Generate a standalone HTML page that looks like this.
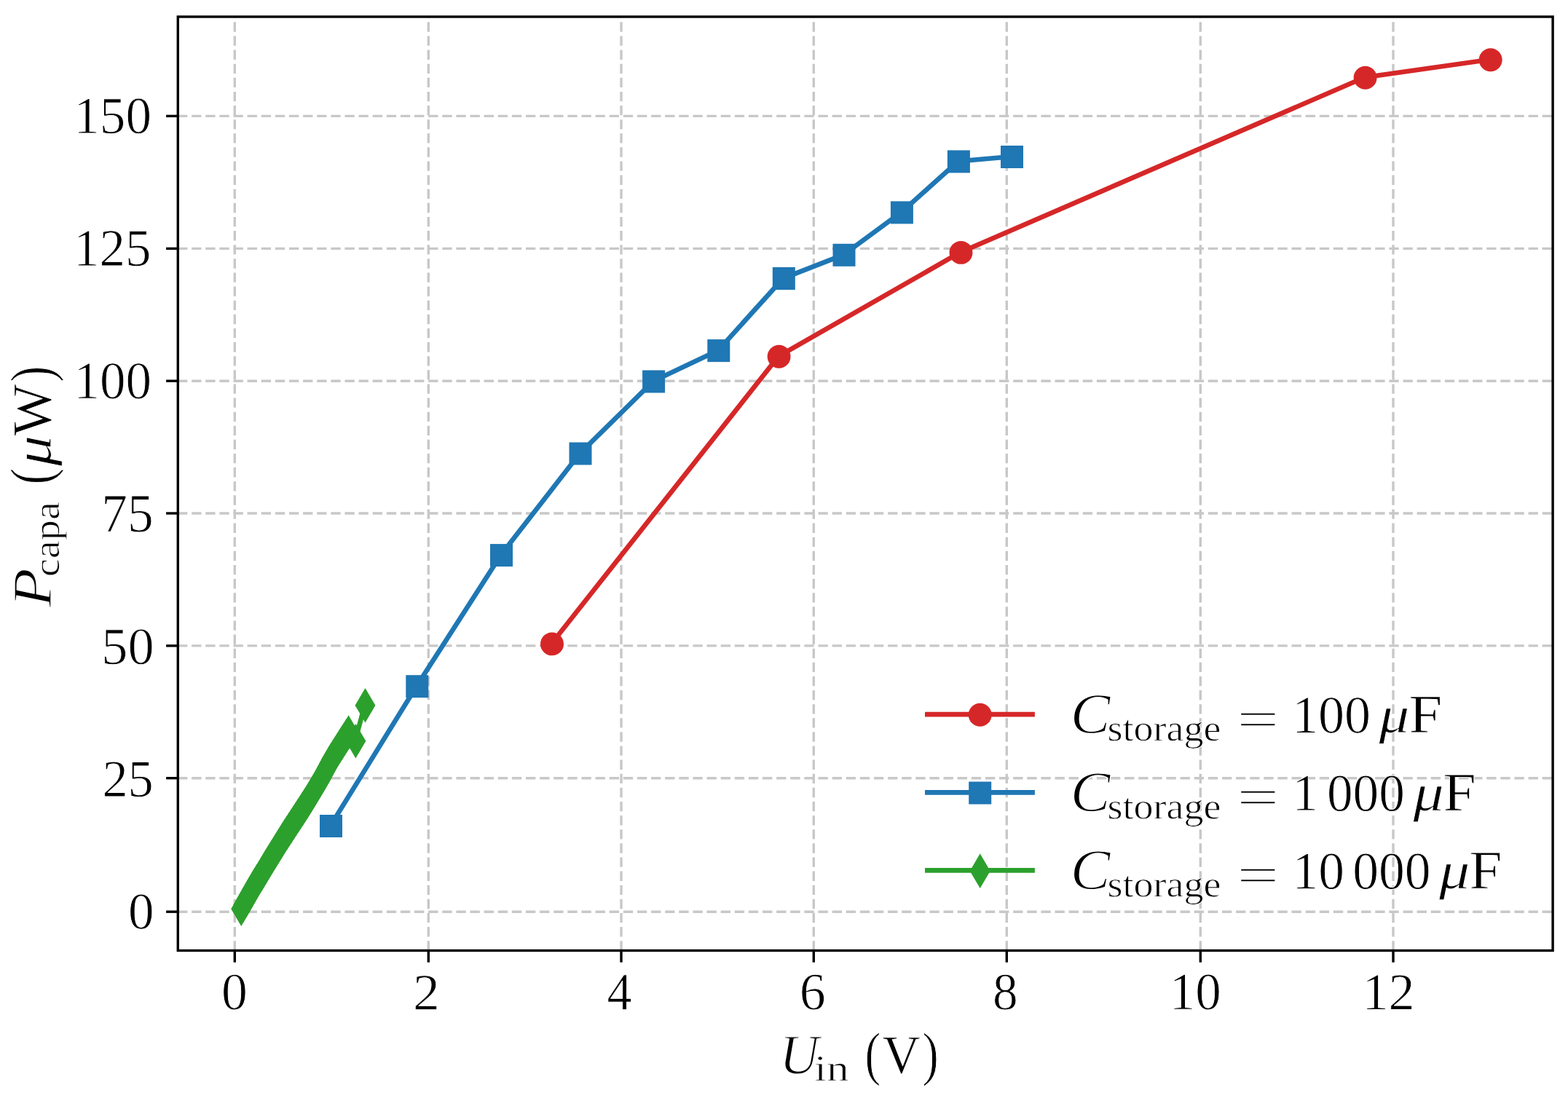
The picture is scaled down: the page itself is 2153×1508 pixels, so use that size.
<!DOCTYPE html>
<html lang="en"><head><meta charset="utf-8"><title>P_capa vs U_in</title>
<style>html,body{margin:0;padding:0;background:#fff}svg{display:block}text{font-family:"Liberation Serif","DejaVu Serif",serif;font-size:100px;fill:#000;stroke:#fff;paint-order:fill stroke;stroke-linejoin:round}.i{font-style:italic}</style></head><body>
<svg width="2153" height="1508" viewBox="0 0 2153 1508">
<rect width="2153" height="1508" fill="#fff"/>
<g stroke="#c8c8c8" stroke-width="3.4" stroke-dasharray="13.35 5.769" fill="none">
<path d="M322.3 1305.5V23"/>
<path d="M588.3 1305.5V23"/>
<path d="M853 1305.5V23"/>
<path d="M1117.3 1305.5V23"/>
<path d="M1382.3 1305.5V23"/>
<path d="M1648.3 1305.5V23"/>
<path d="M1913 1305.5V23"/>
<path d="M244 1252.2H2132.1"/>
<path d="M244 1068.7H2132.1"/>
<path d="M244 886.9H2132.1"/>
<path d="M244 705H2132.1"/>
<path d="M244 523.2H2132.1"/>
<path d="M244 341.4H2132.1"/>
<path d="M244 159.4H2132.1"/>
</g>
<defs><path id="dm" d="M0 -23.8 L13.95 0 L0 23.8 L-13.95 0Z"/></defs>
<g fill="#d62728">
<polyline points="757.3,883.95 1068.9,489.35 1318.8,346.45 1873.9,106.25 2046,81.75" fill="none" stroke="#d62728" stroke-width="6.6" stroke-linejoin="round" stroke-linecap="square"/>
<circle cx="758" cy="884.4" r="15.95"/>
<circle cx="1069.6" cy="489.8" r="15.95"/>
<circle cx="1319.5" cy="346.9" r="15.95"/>
<circle cx="1874.6" cy="106.7" r="15.95"/>
<circle cx="2046.7" cy="82.2" r="15.95"/>
</g>
<g fill="#1f77b4">
<polyline points="453.8,1134.05 572.1,942.25 687.8,762.15 796.3,622.55 896.9,523.55 986.1,481.15 1075.6,382.05 1158.3,349.85 1237.7,291.45 1315.7,221.45 1388.8,215.05" fill="none" stroke="#1f77b4" stroke-width="6.6" stroke-linejoin="round" stroke-linecap="square"/>
<rect x="439" y="1119" width="31" height="31"/>
<rect x="557.3" y="927.2" width="31" height="31"/>
<rect x="673" y="747.1" width="31" height="31"/>
<rect x="781.5" y="607.5" width="31" height="31"/>
<rect x="882.1" y="508.5" width="31" height="31"/>
<rect x="971.3" y="466.1" width="31" height="31"/>
<rect x="1060.8" y="367" width="31" height="31"/>
<rect x="1143.5" y="334.8" width="31" height="31"/>
<rect x="1222.9" y="276.4" width="31" height="31"/>
<rect x="1300.9" y="206.4" width="31" height="31"/>
<rect x="1374" y="200" width="31" height="31"/>
</g>
<g fill="#2ca02c">
<polyline points="330.5,1247.75 333.24,1242.91 335.98,1238.08 338.72,1233.24 341.47,1228.4 344.21,1223.56 346.95,1218.73 349.69,1213.89 352.57,1209.14 355.64,1204.5 358.61,1199.8 361.38,1194.98 364.15,1190.16 367.05,1185.42 369.97,1180.69 372.89,1175.96 375.82,1171.23 378.74,1166.49 381.66,1161.76 384.58,1157.03 387.5,1152.3 390.47,1147.6 393.52,1142.95 396.56,1138.3 399.6,1133.64 402.65,1128.99 405.69,1124.34 408.73,1119.68 411.78,1115.03 414.82,1110.38 417.86,1105.72 420.91,1101.07 423.83,1096.34 426.69,1091.57 429.55,1086.8 432.41,1082.04 435.27,1077.27 438.13,1072.5 440.99,1067.73 443.6,1062.82 446.2,1057.91 448.8,1052.99 451.4,1048.08 453.99,1043.16 456.98,1038.47 459.97,1033.78 462.96,1029.09 465.95,1024.41 468.93,1019.72 471.92,1015.03 474.91,1010.34 477.9,1005.65 487.7,1017.35 500.8,968.25" fill="none" stroke="#2ca02c" stroke-width="6.6" stroke-linejoin="round" stroke-linecap="square"/>
<use href="#dm" x="331.2" y="1248.2"/>
<use href="#dm" x="333.94" y="1243.36"/>
<use href="#dm" x="336.68" y="1238.53"/>
<use href="#dm" x="339.42" y="1233.69"/>
<use href="#dm" x="342.17" y="1228.85"/>
<use href="#dm" x="344.91" y="1224.01"/>
<use href="#dm" x="347.65" y="1219.18"/>
<use href="#dm" x="350.39" y="1214.34"/>
<use href="#dm" x="353.27" y="1209.59"/>
<use href="#dm" x="356.34" y="1204.95"/>
<use href="#dm" x="359.31" y="1200.25"/>
<use href="#dm" x="362.08" y="1195.43"/>
<use href="#dm" x="364.85" y="1190.61"/>
<use href="#dm" x="367.75" y="1185.87"/>
<use href="#dm" x="370.67" y="1181.14"/>
<use href="#dm" x="373.59" y="1176.41"/>
<use href="#dm" x="376.52" y="1171.68"/>
<use href="#dm" x="379.44" y="1166.94"/>
<use href="#dm" x="382.36" y="1162.21"/>
<use href="#dm" x="385.28" y="1157.48"/>
<use href="#dm" x="388.2" y="1152.75"/>
<use href="#dm" x="391.17" y="1148.05"/>
<use href="#dm" x="394.22" y="1143.4"/>
<use href="#dm" x="397.26" y="1138.75"/>
<use href="#dm" x="400.3" y="1134.09"/>
<use href="#dm" x="403.35" y="1129.44"/>
<use href="#dm" x="406.39" y="1124.79"/>
<use href="#dm" x="409.43" y="1120.13"/>
<use href="#dm" x="412.48" y="1115.48"/>
<use href="#dm" x="415.52" y="1110.83"/>
<use href="#dm" x="418.56" y="1106.17"/>
<use href="#dm" x="421.61" y="1101.52"/>
<use href="#dm" x="424.53" y="1096.79"/>
<use href="#dm" x="427.39" y="1092.02"/>
<use href="#dm" x="430.25" y="1087.25"/>
<use href="#dm" x="433.11" y="1082.49"/>
<use href="#dm" x="435.97" y="1077.72"/>
<use href="#dm" x="438.83" y="1072.95"/>
<use href="#dm" x="441.69" y="1068.18"/>
<use href="#dm" x="444.3" y="1063.27"/>
<use href="#dm" x="446.9" y="1058.36"/>
<use href="#dm" x="449.5" y="1053.44"/>
<use href="#dm" x="452.1" y="1048.53"/>
<use href="#dm" x="454.69" y="1043.61"/>
<use href="#dm" x="457.68" y="1038.92"/>
<use href="#dm" x="460.67" y="1034.23"/>
<use href="#dm" x="463.66" y="1029.54"/>
<use href="#dm" x="466.65" y="1024.86"/>
<use href="#dm" x="469.63" y="1020.17"/>
<use href="#dm" x="472.62" y="1015.48"/>
<use href="#dm" x="475.61" y="1010.79"/>
<use href="#dm" x="478.6" y="1006.1"/>
<use href="#dm" x="488.4" y="1017.8"/>
<use href="#dm" x="501.5" y="968.7"/>
</g>
<g stroke="#000" stroke-width="3.4" fill="none">
<rect x="244.3" y="23" width="1887.8" height="1282.5"/>
<path d="M322.3 1305.5v16.2"/>
<path d="M588.3 1305.5v16.2"/>
<path d="M853 1305.5v16.2"/>
<path d="M1117.3 1305.5v16.2"/>
<path d="M1382.3 1305.5v16.2"/>
<path d="M1648.3 1305.5v16.2"/>
<path d="M1913 1305.5v16.2"/>
<path d="M244.3 1252.2h-16.2"/>
<path d="M244.3 1068.7h-16.2"/>
<path d="M244.3 886.9h-16.2"/>
<path d="M244.3 705h-16.2"/>
<path d="M244.3 523.2h-16.2"/>
<path d="M244.3 341.4h-16.2"/>
<path d="M244.3 159.4h-16.2"/>
</g>
<g>
<text stroke-width="1.26" transform="matrix(0.7111 0.0004 -0.0004 0.7139 176 1275.41)">0</text>
<text stroke-width="1.26" transform="matrix(0.7045 0.0004 -0.0004 0.7251 140.38 1093.88)">25</text>
<text stroke-width="1.25" transform="matrix(0.7223 0.0004 -0.0004 0.7224 139.37 911.89)">50</text>
<text stroke-width="1.23" transform="matrix(0.714 0.0004 -0.0004 0.7534 139.36 730.25)">75</text>
<text stroke-width="1.25" transform="matrix(0.7101 0.0004 -0.0004 0.7293 101.44 547.14)">100</text>
<text stroke-width="1.25" transform="matrix(0.7096 0.0004 -0.0004 0.7278 101 365.06)">125</text>
<text stroke-width="1.26" transform="matrix(0.7109 0.0004 -0.0004 0.721 101.31 182.91)">150</text>
</g>
<g>
<text stroke-width="1.25" transform="matrix(0.7164 0.0004 -0.0004 0.7226 304.09 1386.16)">0</text>
<text stroke-width="1.24" transform="matrix(0.7369 0.0004 -0.0004 0.7098 566.89 1386.68)">2</text>
<text stroke-width="1.28" transform="matrix(0.6804 0.0004 -0.0004 0.7289 833.46 1386.68)">4</text>
<text stroke-width="1.25" transform="matrix(0.7187 0.0004 -0.0004 0.7256 1097.68 1386.16)">6</text>
<text stroke-width="1.27" transform="matrix(0.6921 0.0004 -0.0004 0.7226 1363.07 1386.17)">8</text>
<text stroke-width="1.25" transform="matrix(0.71 0.0004 -0.0004 0.7261 1605.84 1386.3)">10</text>
<text stroke-width="1.25" transform="matrix(0.7207 0.0004 -0.0004 0.7185 1870.49 1386.6)">12</text>
</g>
<g>
<text class="i" stroke-width="1.84" transform="matrix(0.7503 0.0004 -0.0004 0.7743 1070.16 1474.39)">U</text>
<text stroke-width="1.61" transform="matrix(0.6129 0.0004 -0.0004 0.505 1118.07 1484.3)">in</text>
<text stroke-width="1.23" transform="matrix(0.6513 0.0004 -0.0004 0.8179 1187.39 1474.61)">(</text>
<text stroke-width="1.22" transform="matrix(0.7231 0.0004 -0.0004 0.7496 1211.59 1473.73)">V</text>
<text stroke-width="1.21" transform="matrix(0.6706 0.0004 -0.0004 0.8162 1266.41 1474.69)">)</text>
</g>
<g>
<text class="i" stroke-width="1.82" transform="matrix(0.0004 -0.8842 0.7684 0.0004 69.73 834.32)">P</text>
<text stroke-width="1.68" transform="matrix(0.0004 -0.5646 0.505 0.0004 81 792.28)">capa</text>
<text stroke-width="1.2" transform="matrix(0.0004 -0.6769 0.8185 0.0004 70.46 665.44)">(</text>
<text class="i" stroke-width="1.15" transform="matrix(0.0004 -0.8362 0.7269 0.0004 69.71 639.88)">μ</text>
<text stroke-width="1.19" transform="matrix(0.0004 -0.7508 0.7635 0.0004 69.74 598.61)">W</text>
<text stroke-width="1.22" transform="matrix(0.0004 -0.6626 0.8152 0.0004 70.56 524.73)">)</text>
</g>
<g>
<path d="M1273.3 981.1H1417.6" stroke="#d62728" stroke-width="6.6" stroke-linecap="square" fill="none"/>
<circle cx="1345.7" cy="981.7" r="15.95" fill="#d62728"/>
<text class="i" stroke-width="1.74" transform="matrix(0.8203 0.0004 -0.0004 0.7876 1469.8 1006.85)">C</text>
<text stroke-width="1.72" transform="matrix(0.5401 0.0004 -0.0004 0.505 1520.54 1017.2)">storage</text>
<text stroke-width="2.05" transform="matrix(1.0384 0.0004 -0.0004 0.7198 1698.07 1012.13)">=</text>
<text stroke-width="1.24" transform="matrix(0.7194 0.0004 -0.0004 0.7333 1774.16 1006.42)">100</text>
<text class="i" stroke-width="1.16" transform="matrix(0.8316 0.0004 -0.0004 0.7216 1893.47 1005.93)">μ</text>
<text stroke-width="1.14" transform="matrix(0.8282 0.0004 -0.0004 0.7496 1934.21 1005.93)">F</text>
</g>
<g>
<path d="M1273.3 1088.35H1417.6" stroke="#1f77b4" stroke-width="6.6" stroke-linecap="square" fill="none"/>
<rect x="1330.2" y="1073.55" width="31" height="31" fill="#1f77b4"/>
<text class="i" stroke-width="1.74" transform="matrix(0.8212 0.0004 -0.0004 0.7875 1469.83 1114.02)">C</text>
<text stroke-width="1.72" transform="matrix(0.5401 0.0004 -0.0004 0.505 1520.54 1124.5)">storage</text>
<text stroke-width="2.05" transform="matrix(1.0384 0.0004 -0.0004 0.7198 1698.07 1119.35)">=</text>
<text stroke-width="1.25" transform="matrix(0.7169 0.0004 -0.0004 0.7202 1774.16 1113.03)">1</text>
<text stroke-width="1.25" transform="matrix(0.7121 0.0004 -0.0004 0.7319 1821.99 1113.65)">000</text>
<text class="i" stroke-width="1.15" transform="matrix(0.8394 0.0004 -0.0004 0.7267 1940.62 1113.34)">μ</text>
<text stroke-width="1.15" transform="matrix(0.8191 0.0004 -0.0004 0.7512 1981.21 1113.37)">F</text>
</g>
<g>
<path d="M1273.3 1195.35H1417.6" stroke="#2ca02c" stroke-width="6.6" stroke-linecap="square" fill="none"/>
<use href="#dm" x="1345.7" y="1196.15" fill="#2ca02c"/>
<text class="i" stroke-width="1.74" transform="matrix(0.8212 0.0004 -0.0004 0.7875 1469.83 1221.02)">C</text>
<text stroke-width="1.72" transform="matrix(0.5401 0.0004 -0.0004 0.505 1520.54 1231.5)">storage</text>
<text stroke-width="2.05" transform="matrix(1.0384 0.0004 -0.0004 0.7198 1698.07 1226.35)">=</text>
<text stroke-width="1.25" transform="matrix(0.7131 0.0004 -0.0004 0.7319 1774.56 1220.67)">10</text>
<text stroke-width="1.24" transform="matrix(0.7149 0.0004 -0.0004 0.7322 1857.16 1220.63)">000</text>
<text class="i" stroke-width="1.15" transform="matrix(0.8425 0.0004 -0.0004 0.728 1976 1220.29)">μ</text>
<text stroke-width="1.15" transform="matrix(0.813 0.0004 -0.0004 0.7512 2017.21 1220.37)">F</text>
</g>
</svg></body></html>
